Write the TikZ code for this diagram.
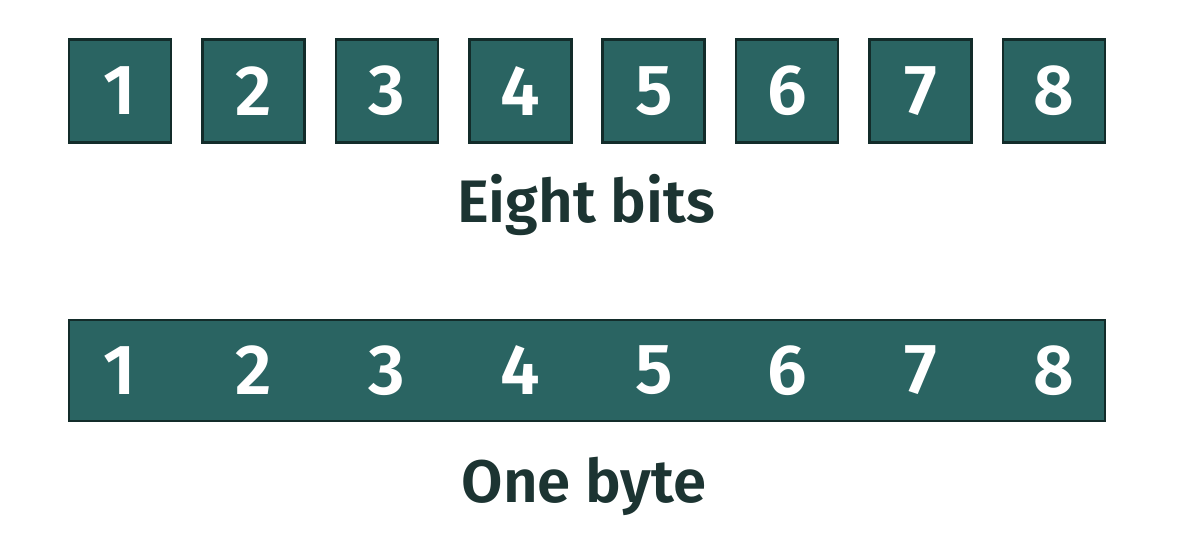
\documentclass[tikz,border=0pt]{standalone}
\usepackage{fontspec}
\setmainfont{Fira Sans}[BoldFont={Fira Sans SemiBold}]
\newfontfamily\capfont{Fira Sans}[UprightFont={Fira Sans SemiBold}]
\definecolor{teal}{HTML}{2A6462}
\definecolor{edge}{HTML}{132C2A}
\definecolor{ink}{HTML}{1C3432}
\begin{document}
\begin{tikzpicture}[x=1pt,y=1pt,
  bitbox/.style={draw=edge,line width=2.6pt,fill=teal,minimum width=102pt,minimum height=103pt,inner sep=0pt},
  digit/.style={text=white,font=\fontsize{71}{71}\selectfont\bfseries,inner sep=0pt},
  caption/.style={text=ink,font=\fontsize{60}{60}\selectfont\capfont,anchor=base,inner sep=0pt}]
\useasboundingbox (0,0) rectangle (1180,540);
\foreach \i in {1,...,8}{
  \node[bitbox] (b\i) at ({120+(\i-1)*133.43},449) {};
  \node[digit] (d\i) at (b\i.center) {\i};
}
\node[caption] (eight) at (586,317) {Eight bits};
\node[draw=edge,line width=2.6pt,fill=teal,minimum width=1036pt,minimum height=101pt,inner sep=0pt] (byte) at (587,169.5) {};
\foreach \i in {1,...,8}{
  \node[digit] (e\i) at ({120+(\i-1)*133.43},169.5) {\i};
}
\node[caption] (one) at (584,37) {One byte};
\end{tikzpicture}
\end{document}
